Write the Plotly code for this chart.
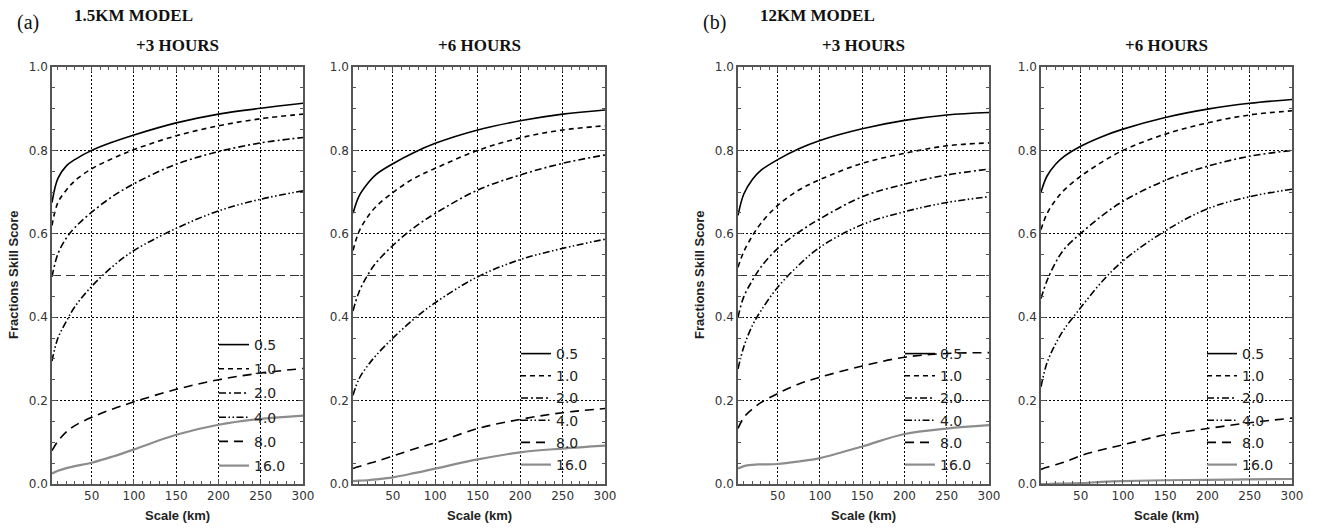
import plotly.graph_objects as go

# ---------------- data ----------------
thresholds = ["0.5", "1.0", "2.0", "4.0", "8.0", "16.0"]
scales = [3, 10, 20, 30, 50, 75, 100, 150, 200, 250, 300]

km15_3h = {
    "0.5": [0.675, 0.733, 0.763, 0.778, 0.80, 0.82, 0.837, 0.866, 0.887, 0.901, 0.913],
    "1.0": [0.62, 0.675, 0.705, 0.727, 0.756, 0.781, 0.802, 0.835, 0.859, 0.876, 0.887],
    "2.0": [0.497, 0.552, 0.59, 0.615, 0.652, 0.69, 0.72, 0.767, 0.797, 0.818, 0.831],
    "4.0": [0.295, 0.35, 0.39, 0.425, 0.474, 0.522, 0.56, 0.613, 0.655, 0.683, 0.703],
    "8.0": [0.08, 0.103, 0.125, 0.14, 0.16, 0.18, 0.197, 0.227, 0.25, 0.266, 0.277],
    "16.0": [0.025, 0.032, 0.038, 0.043, 0.051, 0.066, 0.083, 0.118, 0.142, 0.156, 0.164],
}
km15_6h = {
    "0.5": [0.649, 0.69, 0.72, 0.742, 0.768, 0.795, 0.817, 0.849, 0.871, 0.887, 0.897],
    "1.0": [0.56, 0.605, 0.64, 0.665, 0.699, 0.733, 0.757, 0.80, 0.83, 0.849, 0.859],
    "2.0": [0.415, 0.46, 0.5, 0.53, 0.572, 0.615, 0.649, 0.705, 0.741, 0.769, 0.789],
    "4.0": [0.213, 0.252, 0.283, 0.308, 0.35, 0.396, 0.435, 0.497, 0.538, 0.565, 0.587],
    "8.0": [0.037, 0.042, 0.048, 0.054, 0.067, 0.084, 0.099, 0.133, 0.155, 0.171, 0.181],
    "16.0": [0.007, 0.008, 0.009, 0.011, 0.016, 0.026, 0.037, 0.059, 0.076, 0.085, 0.092],
}
km12_3h = {
    "0.5": [0.644, 0.696, 0.73, 0.752, 0.778, 0.804, 0.824, 0.852, 0.872, 0.885, 0.891],
    "1.0": [0.52, 0.558, 0.595, 0.625, 0.668, 0.705, 0.73, 0.769, 0.793, 0.811, 0.818],
    "2.0": [0.40, 0.45, 0.488, 0.52, 0.565, 0.604, 0.636, 0.689, 0.719, 0.741, 0.755],
    "4.0": [0.276, 0.33, 0.38, 0.415, 0.472, 0.525, 0.568, 0.622, 0.653, 0.675, 0.689],
    "8.0": [0.133, 0.16, 0.18, 0.195, 0.217, 0.24, 0.256, 0.283, 0.304, 0.313, 0.315],
    "16.0": [0.037, 0.043, 0.046, 0.047, 0.048, 0.054, 0.062, 0.09, 0.12, 0.133, 0.141],
}
km12_6h = {
    "0.5": [0.70, 0.738, 0.766, 0.785, 0.81, 0.833, 0.851, 0.879, 0.899, 0.913, 0.922],
    "1.0": [0.61, 0.648, 0.68, 0.704, 0.738, 0.772, 0.80, 0.839, 0.866, 0.885, 0.895],
    "2.0": [0.445, 0.487, 0.53, 0.562, 0.601, 0.643, 0.678, 0.728, 0.762, 0.786, 0.80],
    "4.0": [0.233, 0.29, 0.335, 0.37, 0.423, 0.485, 0.535, 0.607, 0.66, 0.689, 0.707],
    "8.0": [0.035, 0.04, 0.046, 0.052, 0.068, 0.082, 0.094, 0.118, 0.133, 0.147, 0.158],
    "16.0": [0.0, 0.0, 0.001, 0.001, 0.002, 0.005, 0.007, 0.009, 0.010, 0.011, 0.012],
}
useful_fss = 0.5
panel_titles = ["+3 HOURS", "+6 HOURS", "+3 HOURS", "+6 HOURS"]
model_labels = [("(a)", "1.5KM MODEL"), ("(b)", "12KM MODEL")]
x_title = "Scale (km)"
y_title = "Fractions Skill Score"

# ---------------- styling ----------------
W, H = 1317, 529
panel_px = [(52, 303), (353, 605), (738, 989), (1041, 1292)]
top_px, bot_px = 67, 484
styles = {
    "0.5": dict(color="black", width=1.6, dash="solid"),
    "1.0": dict(color="black", width=1.6, dash="5px,4px"),
    "2.0": dict(color="black", width=1.6, dash="7px,3px,2px,3px"),
    "4.0": dict(color="black", width=1.6, dash="7px,2.5px,1.5px,2.5px,1.5px,2.5px"),
    "8.0": dict(color="black", width=1.6, dash="9px,6px"),
    "16.0": dict(color="#8c8c8c", width=2.2, dash="solid"),
}
legend_pos = [(170, 340), (171, 349), (170, 349), (169, 349)]
legend_gap = [3, 1, 1, 1]

fig = go.Figure()
datasets = [km15_3h, km15_6h, km12_3h, km12_6h]
layout_axes = {}
for i, data in enumerate(datasets):
    n = "" if i == 0 else str(i + 1)
    leg = "legend" if i == 0 else f"legend{i+1}"
    for t in thresholds:
        fig.add_trace(go.Scatter(
            x=scales, y=data[t], mode="lines", name=t,
            line=dict(shape="spline", smoothing=1.0, **styles[t]),
            xaxis="x" + n, yaxis="y" + n, legend=leg,
            legendgroup=f"p{i}_{t}",
        ))
    fig.add_trace(go.Scatter(
        x=[scales[0], scales[-1]], y=[useful_fss, useful_fss], mode="lines",
        line=dict(color="#333", width=1.2, dash="9px,5px"), showlegend=False,
        xaxis="x" + n, yaxis="y" + n, hoverinfo="skip",
    ))
    l, r = panel_px[i]
    axis_common = dict(
        showline=True, linecolor="#555", linewidth=1.5, mirror="allticks",
        ticks="inside", ticklen=5, tickcolor="#555", tickwidth=1,
        showgrid=True, gridcolor="black", gridwidth=1, griddash="2px,2px",
        zeroline=False, automargin=False,
        tickfont=dict(family="DejaVu Sans", size=12, color="#333"),
    )
    layout_axes["xaxis" + n] = dict(
        domain=[l / W, r / W], anchor="y" + n, range=[scales[0], scales[-1]],
        tick0=0, dtick=50,
        minor=dict(dtick=10, tick0=0, ticks="inside", ticklen=3, tickcolor="#555", showgrid=False),
        **axis_common,
    )
    layout_axes["yaxis" + n] = dict(
        domain=[1 - bot_px / H, 1 - top_px / H], anchor="x" + n, range=[0, 1],
        dtick=0.2, tickformat=".1f",
        minor=dict(dtick=0.05, ticks="inside", ticklen=3, tickcolor="#555", showgrid=False),
        **axis_common,
    )
    lx, ly = legend_pos[i]
    layout_axes[leg] = dict(
        x=(l + lx - 8) / W, xanchor="left", y=1 - (ly - 11) / H, yanchor="top",
        bgcolor="rgba(0,0,0,0)", borderwidth=0, tracegroupgap=legend_gap[i],
        font=dict(family="DejaVu Sans", size=14, color="#222"),
    )

fig.update_layout(**layout_axes)

ann = []
serif = "Liberation Serif"
for i, (l, r) in enumerate(panel_px):
    ann.append(dict(text=f"<b>{panel_titles[i]}</b>", x=(l + r) / 2 / W, y=1 - 46 / H,
                    xanchor="center", yanchor="middle",
                    xref="paper", yref="paper", showarrow=False,
                    font=dict(family=serif, size=17, color="#111")))
    ann.append(dict(text=f"<b>{x_title}</b>", x=(l + r) / 2 / W, y=1 - 515 / H,
                    xanchor="center", yanchor="middle",
                    xref="paper", yref="paper", showarrow=False,
                    font=dict(family="Liberation Sans", size=13, color="#222")))
for i, (tag, lab) in enumerate(model_labels):
    l = panel_px[2 * i][0]
    ann.append(dict(text=tag, x=(l - 37) / W, y=1 - 23 / H, xanchor="left", yanchor="middle",
                    xref="paper", yref="paper", showarrow=False,
                    font=dict(family=serif, size=20, color="#111")))
    ann.append(dict(text=f"<b>{lab}</b>", x=(l + 20) / W, y=1 - 15 / H, xanchor="left",
                    yanchor="middle",
                    xref="paper", yref="paper", showarrow=False,
                    font=dict(family=serif, size=17, color="#111")))
    ann.append(dict(text=f"<b>{y_title}</b>", x=(l - 39) / W, y=1 - 275 / H,
                    xanchor="center", yanchor="middle",
                    xref="paper", yref="paper", showarrow=False, textangle=-90,
                    font=dict(family="Liberation Sans", size=13, color="#222")))

fig.update_layout(
    width=W, height=H, autosize=False,
    margin=dict(l=0, r=0, t=0, b=0, autoexpand=False),
    paper_bgcolor="white", plot_bgcolor="white",
    annotations=ann, showlegend=True,
)
fig.write_html(
    "out.html",
    config={"displayModeBar": False},
    post_script="document.body.style.margin='0px';document.body.style.overflow='hidden';",
)
